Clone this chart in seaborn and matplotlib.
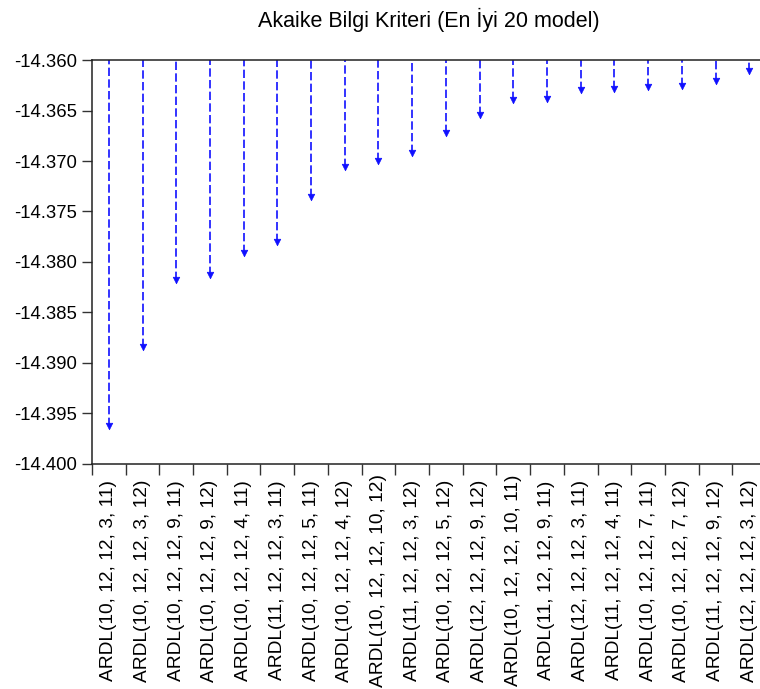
import numpy as np
import pandas as pd
import matplotlib
matplotlib.use("Agg")
import matplotlib.pyplot as plt
from matplotlib.ticker import FixedLocator, FormatStrFormatter
import seaborn as sns

# Data (best 20 models by AIC)
models = [
    "ARDL(10, 12, 12, 3, 11)", "ARDL(10, 12, 12, 3, 12)", "ARDL(10, 12, 12, 9, 11)",
    "ARDL(10, 12, 12, 9, 12)", "ARDL(10, 12, 12, 4, 11)", "ARDL(11, 12, 12, 3, 11)",
    "ARDL(10, 12, 12, 5, 11)", "ARDL(10, 12, 12, 4, 12)", "ARDL(10, 12, 12, 10, 12)",
    "ARDL(11, 12, 12, 3, 12)", "ARDL(10, 12, 12, 5, 12)", "ARDL(12, 12, 12, 9, 12)",
    "ARDL(10, 12, 12, 10, 11)", "ARDL(11, 12, 12, 9, 11)", "ARDL(12, 12, 12, 3, 11)",
    "ARDL(11, 12, 12, 4, 11)", "ARDL(10, 12, 12, 7, 11)", "ARDL(10, 12, 12, 7, 12)",
    "ARDL(11, 12, 12, 9, 12)", "ARDL(12, 12, 12, 3, 12)",
]
aic = [
    -14.3962, -14.3884, -14.3818, -14.3813, -14.3791, -14.3780, -14.3736, -14.3706,
    -14.3700, -14.3692, -14.3672, -14.3654, -14.3640, -14.3639, -14.3630, -14.3629,
    -14.3627, -14.3626, -14.3621, -14.3611,
]
y_ticks = [-14.400, -14.395, -14.390, -14.385, -14.380, -14.375, -14.370, -14.365, -14.360]
title = "Akaike Bilgi Kriteri (En İyi 20 model)"

df = pd.DataFrame({"model": models, "aic": aic})
df["pos"] = np.arange(len(df))

sns.set_theme(style="white")
plt.rcParams["font.family"] = ["Liberation Sans", "DejaVu Sans"]
plt.rcParams["axes.unicode_minus"] = False
plt.rcParams["text.color"] = "black"
plt.rcParams["xtick.color"] = "black"
plt.rcParams["ytick.color"] = "black"

blue = "#1010ff"
top = -14.360

fig = plt.figure(figsize=(7.6, 6.89), dpi=100)
ax = fig.add_axes([0.121, 0.3266, 0.887, 0.5863])

# dashed drop lines from the top of the frame down to each AIC value
ax.vlines(df["pos"], ymin=df["aic"], ymax=top, colors=blue,
          linestyles=(0, (5, 2)), linewidth=1.2)
sns.scatterplot(data=df, x="pos", y="aic", marker="v", s=22, color=blue,
                edgecolor=blue, linewidth=0.5, ax=ax, zorder=3)

ax.set_xlim(-0.5, len(df) - 0.5)
ax.set_ylim(-14.400, -14.360)
ax.yaxis.set_major_locator(FixedLocator(y_ticks))
ax.yaxis.set_major_formatter(FormatStrFormatter("%.3f"))

# rotated model labels, centred vertically like EViews does
ax.set_xticks(df["pos"])
ax.set_xticklabels(df["model"], rotation=90, fontsize=13.8, va="center")
ax.xaxis.set_minor_locator(FixedLocator(np.arange(-0.5, len(df), 1.0)))
ax.tick_params(axis="x", which="major", length=0, pad=84)
ax.tick_params(axis="x", which="minor", bottom=True, length=8, width=1, color="#333333")
ax.tick_params(axis="y", which="major", left=True, length=7, width=1, color="#333333",
               labelsize=13.3, pad=4)

for side in ["left", "top", "bottom", "right"]:
    ax.spines[side].set_color("#222222")
    ax.spines[side].set_linewidth(1.1)

ax.set_xlabel("")
ax.set_ylabel("")
ax.set_title(title, fontsize=15.5, pad=24, color="black")

fig.savefig("out.png", dpi=100)
